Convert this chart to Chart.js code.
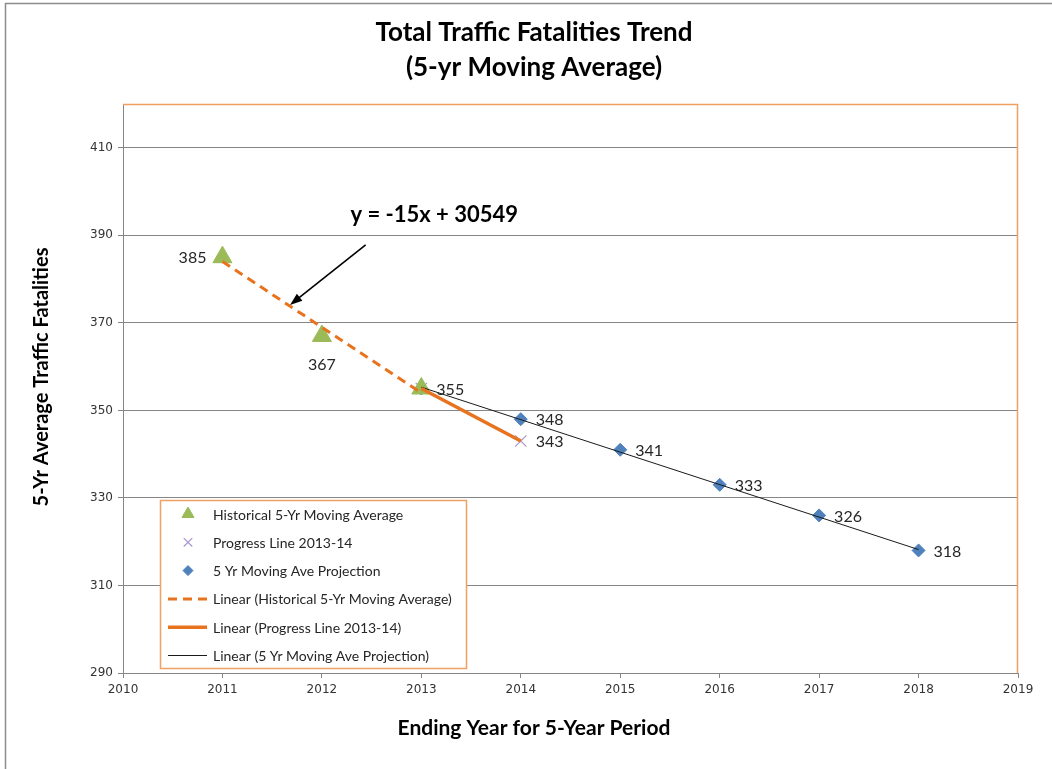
<!DOCTYPE html>
<html lang="en">
<head>
<meta charset="UTF-8">
<title>Total Traffic Fatalities Trend</title>
<script src="https://cdn.jsdelivr.net/npm/chart.js"></script>
<style>
  body { margin: 0; background: #fff; }
  canvas { display: block; }
</style>
</head>
<body>
<canvas id="grafico" width="1052" height="769"></canvas>
<script>
// valores
const histYears = [2011, 2012, 2013];
const histValues = [385, 367, 355];
const progressYears = [2013, 2014];
const progressValues = [355, 343];
const projYears = [2013, 2014, 2015, 2016, 2017, 2018];
const projValues = [355, 348, 341, 333, 326, 318];

// pontas das linhas de tendência
const histTrendYears = [2011, 2013];
const histTrendValues = [384, 354];
const progressTrendYears = [2013, 2014];
const progressTrendValues = [355, 343];
const projTrendYears = [2013, 2018];
const projTrendValues = [355.3, 318.2];

const xTicks = [2010, 2011, 2012, 2013, 2014, 2015, 2016, 2017, 2018, 2019];
const yTicks = [290, 310, 330, 350, 370, 390, 410];

const equationText = 'y = -15x + 30549';

function pts(xs, ys) {
    return xs.map(function (x, i) { return { x: x, y: ys[i] }; });
}

const ORANGE = '#E8731E';
const LABEL_FONT = '16px Lato';

const datasets = [
    {
        label: 'Historical 5-Yr Moving Average',
        data: pts(histYears, histValues),
        pointStyle: 'triangle', pointRadius: 11,
        backgroundColor: '#9BBB59', borderColor: '#9BBB59', borderWidth: 1,
        showLine: false, order: 2,
        legendRadius: 7,
        labelPos: ['left', 'below', null]
    },
    {
        label: 'Progress Line 2013-14',
        data: pts(progressYears, progressValues),
        pointStyle: 'crossRot', pointRadius: 8,
        borderColor: '#A697CC', backgroundColor: '#A697CC', borderWidth: 1.2,
        showLine: false, order: 2,
        legendRadius: 6,
        labelPos: [null, 'right']
    },
    {
        label: '5 Yr Moving Ave Projection',
        data: pts(projYears, projValues),
        pointStyle: 'rectRot', pointRadius: 6.5,
        backgroundColor: '#4F81BD', borderColor: '#4F81BD', borderWidth: 1,
        showLine: false, order: 2,
        legendRadius: 5,
        labelPos: ['right', 'right', 'right', 'right', 'right', 'right']
    },
    {
        label: 'Linear (Historical 5-Yr Moving Average)',
        data: pts(histTrendYears, histTrendValues),
        showLine: true, pointRadius: 0,
        borderColor: ORANGE, borderWidth: 3, borderDash: [9, 6],
        order: 0
    },
    {
        label: 'Linear (Progress Line 2013-14)',
        data: pts(progressTrendYears, progressTrendValues),
        showLine: true, pointRadius: 0,
        borderColor: ORANGE, borderWidth: 3.5,
        order: 0
    },
    {
        label: 'Linear (5 Yr Moving Ave Projection)',
        data: pts(projTrendYears, projTrendValues),
        showLine: true, pointRadius: 0,
        borderColor: '#1a1a1a', borderWidth: 1,
        order: 0
    }
];

const extras = {
    id: 'extras',
    beforeDraw(chart) {
        const ctx = chart.ctx;
        ctx.save();
        ctx.fillStyle = '#fff';
        ctx.fillRect(0, 0, chart.width, chart.height);
        // moldura cinza
        ctx.strokeStyle = '#8c8c8c';
        ctx.lineWidth = 1.5;
        ctx.beginPath();
        ctx.moveTo(5.5, chart.height);
        ctx.lineTo(5.5, 3.5);
        ctx.lineTo(chart.width, 3.5);
        ctx.stroke();
        ctx.restore();
    },
    beforeDatasetsDraw(chart) {
        const ctx = chart.ctx;
        const a = chart.chartArea;
        ctx.save();
        ctx.strokeStyle = '#F0A060';
        ctx.lineWidth = 1.5;
        ctx.beginPath();
        ctx.moveTo(a.left, a.top + 0.5);
        ctx.lineTo(a.right - 0.5, a.top + 0.5);
        ctx.lineTo(a.right - 0.5, a.bottom);
        ctx.stroke();
        ctx.restore();
    },
    afterDraw(chart) {
        const ctx = chart.ctx;
        const xs = chart.scales.x;
        const ys = chart.scales.y;
        ctx.save();

        // títulos
        ctx.fillStyle = '#000';
        ctx.textAlign = 'center';
        ctx.textBaseline = 'middle';
        ctx.font = 'bold 26px Lato';
        ctx.fillText('Total Traffic Fatalities Trend', 534, 33);
        ctx.fillText('(5-yr Moving Average)', 534, 68);

        ctx.font = 'bold 21px Lato';
        ctx.fillText('Ending Year for 5-Year Period', 534, 728);
        ctx.save();
        ctx.translate(42, 377);
        ctx.rotate(-Math.PI / 2);
        ctx.font = 'bold 20px Lato';
        ctx.fillText('5-Yr Average Traffic Fatalities', 0, 0);
        ctx.restore();

        // rótulos dos pontos
        ctx.font = LABEL_FONT;
        ctx.fillStyle = '#262626';
        chart.data.datasets.forEach(function (ds, i) {
            if (!ds.labelPos) return;
            const meta = chart.getDatasetMeta(i);
            meta.data.forEach(function (el, j) {
                const pos = ds.labelPos[j];
                if (!pos) return;
                const txt = String(ds.data[j].y);
                if (pos === 'right') {
                    ctx.textAlign = 'left';
                    ctx.fillText(txt, el.x + 15, el.y + 1);
                } else if (pos === 'left') {
                    ctx.textAlign = 'right';
                    ctx.fillText(txt, el.x - 16, el.y + 1);
                } else {
                    ctx.textAlign = 'center';
                    ctx.fillText(txt, el.x, el.y + 29);
                }
            });
        });

        // equação + seta
        ctx.fillStyle = '#000';
        ctx.textAlign = 'center';
        ctx.font = 'bold 22px Lato';
        ctx.fillText(equationText, xs.getPixelForValue(2013.13), ys.getPixelForValue(394.7));

        const x1 = xs.getPixelForValue(2012.44), y1 = ys.getPixelForValue(387.8);
        const x2 = xs.getPixelForValue(2011.68), y2 = ys.getPixelForValue(374.1);
        const ang = Math.atan2(y2 - y1, x2 - x1);
        ctx.strokeStyle = '#000';
        ctx.lineWidth = 1.6;
        ctx.beginPath();
        ctx.moveTo(x1, y1);
        ctx.lineTo(x2 - Math.cos(ang) * 8, y2 - Math.sin(ang) * 8);
        ctx.stroke();
        ctx.beginPath();
        ctx.moveTo(x2, y2);
        ctx.lineTo(x2 - Math.cos(ang - 0.35) * 13, y2 - Math.sin(ang - 0.35) * 13);
        ctx.lineTo(x2 - Math.cos(ang + 0.35) * 13, y2 - Math.sin(ang + 0.35) * 13);
        ctx.closePath();
        ctx.fill();

        // legenda
        const box = { left: 160, top: 500, right: 466, bottom: 668 };
        ctx.fillStyle = '#fff';
        ctx.fillRect(box.left, box.top, box.right - box.left, box.bottom - box.top);
        ctx.strokeStyle = '#F0A060';
        ctx.lineWidth = 1.5;
        ctx.strokeRect(box.left + 0.5, box.top + 0.5, box.right - box.left, box.bottom - box.top);

        ctx.font = '14px Lato';
        ctx.textAlign = 'left';
        chart.data.datasets.forEach(function (ds, i) {
            const ry = 514 + i * 28.3;
            ctx.save();
            if (ds.showLine) {
                ctx.strokeStyle = ds.borderColor;
                ctx.lineWidth = ds.borderWidth;
                ctx.setLineDash(ds.borderDash || []);
                ctx.beginPath();
                ctx.moveTo(168, ry);
                ctx.lineTo(207, ry);
                ctx.stroke();
            } else {
                ctx.fillStyle = ds.backgroundColor;
                ctx.strokeStyle = ds.borderColor;
                ctx.lineWidth = ds.borderWidth;
                Chart.helpers.drawPoint(ctx, {
                    pointStyle: ds.pointStyle,
                    radius: ds.legendRadius,
                    borderWidth: ds.borderWidth,
                    rotation: 0
                }, 188, ry);
            }
            ctx.restore();
            ctx.fillStyle = '#262626';
            ctx.fillText(ds.label, 213, ry + 1);
        });

        ctx.restore();
    }
};

new Chart(document.getElementById('grafico').getContext('2d'), {
    type: 'scatter',
    data: { datasets: datasets },
    options: {
        responsive: false,
        animation: false,
        layout: { padding: { top: 104, right: 34, left: 0, bottom: 0 } },
        plugins: {
            legend: { display: false },
            tooltip: { enabled: false },
            title: { display: false }
        },
        scales: {
            x: {
                type: 'linear',
                min: 2010,
                max: 2019,
                afterBuildTicks: function (s) { s.ticks = xTicks.map(function (v) { return { value: v }; }); },
                afterFit: function (s) { s.height = 96; },
                grid: { drawOnChartArea: false, tickLength: 5, color: '#868686' },
                border: { color: '#868686', width: 1 },
                ticks: {
                    font: { family: 'DejaVu Sans', size: 12 },
                    color: '#333333',
                    padding: 5,
                    maxRotation: 0,
                    callback: function (v) { return String(v); }
                }
            },
            y: {
                min: 290,
                max: 420,
                afterBuildTicks: function (s) { s.ticks = yTicks.map(function (v) { return { value: v }; }); },
                afterFit: function (s) { s.width = 123; },
                grid: { color: '#868686', tickLength: 5 },
                border: { color: '#868686', width: 1 },
                ticks: {
                    font: { family: 'DejaVu Sans', size: 12 },
                    color: '#333333',
                    padding: 5,
                    callback: function (v) { return String(v); }
                }
            }
        }
    },
    plugins: [extras]
});
</script>
</body>
</html>
